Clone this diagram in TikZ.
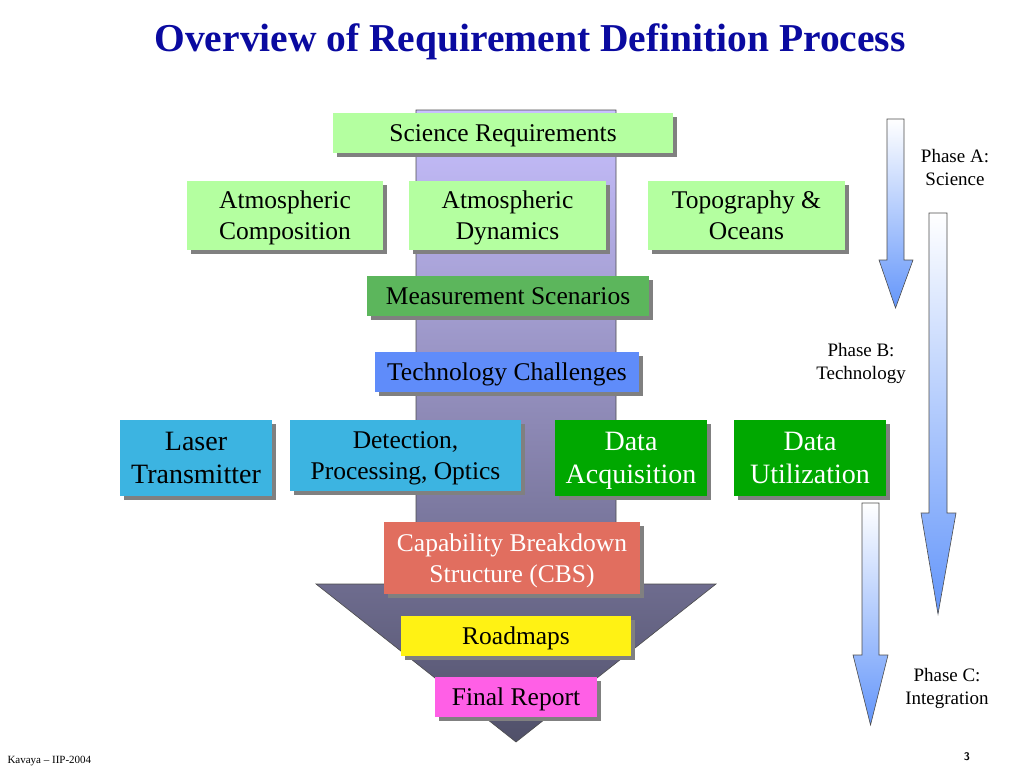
\documentclass[tikz,border=0pt]{standalone}
\usepackage{fontspec}
\setmainfont{Liberation Serif}
\usetikzlibrary{shadows}
\definecolor{titleblue}{RGB}{10,10,160}
\definecolor{scigreen}{RGB}{180,255,160}
\definecolor{measgreen}{RGB}{92,182,92}
\definecolor{techblue}{RGB}{95,140,250}
\definecolor{hwcyan}{RGB}{60,180,225}
\definecolor{datagreen}{RGB}{0,168,0}
\definecolor{cbsred}{RGB}{225,110,95}
\definecolor{roadyellow}{RGB}{255,242,20}
\definecolor{finalpink}{RGB}{255,95,230}
\definecolor{flowtop}{RGB}{200,192,255}
\definecolor{flowbottom}{RGB}{80,80,105}
\definecolor{phaseblue}{RGB}{100,150,250}
\begin{document}
\begin{tikzpicture}[x=1pt,y=-1pt,
  blk/.style={rectangle, inner sep=0pt, align=center, text depth=-3pt, font=\fontsize{25.5}{31}\selectfont,
    drop shadow={shadow xshift=4pt, shadow yshift=-4pt, fill=black!50, opacity=1}},
  bigblk/.style={blk, font=\fontsize{28}{33}\selectfont},
  phase/.style={align=center, font=\fontsize{19}{23}\selectfont},
  phasearrow/.style={draw=black!70, line width=0.6pt, top color=white, bottom color=phaseblue}]
\useasboundingbox (0,0) rectangle (1024,768);
\path[draw=black!70, line width=0.6pt, top color=flowtop, bottom color=flowbottom] (416,110) -- (616,110) -- (616,584) -- (716,584) -- (516,742) -- (316,584) -- (416,584) -- cycle;
\path[phasearrow] (887,119) -- (904,119) -- (904,260) -- (913,260) -- (895.5,308) -- (879,260) -- (887,260) -- cycle;
\path[phasearrow] (929,213) -- (947,213) -- (947,513) -- (956,513) -- (938,614) -- (921,513) -- (929,513) -- cycle;
\path[phasearrow] (862,503) -- (879,503) -- (879,655) -- (888,655) -- (870.5,725) -- (853,655) -- (862,655) -- cycle;

\node[font=\fontsize{39.5}{47}\selectfont\bfseries, text=titleblue] (title) at (530,42) {Overview of Requirement Definition Process};

\node[blk, fill=scigreen, minimum width=340pt, minimum height=40pt] (sci) at (503,133) {Science Requirements};
\node[blk, fill=scigreen, minimum width=196pt, minimum height=69pt] (comp) at (285,215.5) {Atmospheric\\Composition};
\node[blk, fill=scigreen, minimum width=197pt, minimum height=69pt] (dyn) at (507.5,215.5) {Atmospheric\\Dynamics};
\node[blk, fill=scigreen, minimum width=197pt, minimum height=69pt] (topo) at (746.5,215.5) {Topography \&\\Oceans};
\node[blk, fill=measgreen, minimum width=282pt, minimum height=40pt] (meas) at (508,296) {Measurement Scenarios};
\node[blk, fill=techblue, minimum width=264pt, minimum height=40pt] (tech) at (507,372) {Technology Challenges};
\node[bigblk, fill=hwcyan, minimum width=152pt, minimum height=76pt] (laser) at (196,458) {Laser\\Transmitter};
\node[blk, fill=hwcyan, minimum width=231pt, minimum height=71pt] (detect) at (405.5,455.5) {Detection,\\Processing, Optics};
\node[bigblk, fill=datagreen, text=white, minimum width=152pt, minimum height=76pt] (acq) at (631,458) {Data\\Acquisition};
\node[bigblk, fill=datagreen, text=white, minimum width=152pt, minimum height=76pt] (util) at (810,458) {Data\\Utilization};
\node[blk, fill=cbsred, text=white, minimum width=256pt, minimum height=72pt] (cbs) at (512,558) {Capability Breakdown\\Structure (CBS)};
\node[blk, fill=roadyellow, minimum width=230pt, minimum height=40pt] (road) at (516,636) {Roadmaps};
\node[blk, fill=finalpink, minimum width=162pt, minimum height=40pt] (final) at (516,697) {Final Report};

\node[phase] (phA) at (955,167) {Phase A:\\Science};
\node[phase] (phB) at (861,363) {Phase B:\\Technology};
\node[phase] (phC) at (947,688) {Phase C:\\Integration};

\node[anchor=west, font=\fontsize{11}{13}\selectfont] (foot) at (4,761) {Kavaya -- IIP-2004};
\node[font=\fontsize{11}{13}\selectfont\sffamily\bfseries] (page) at (967,757) {3};
\end{tikzpicture}
\end{document}
